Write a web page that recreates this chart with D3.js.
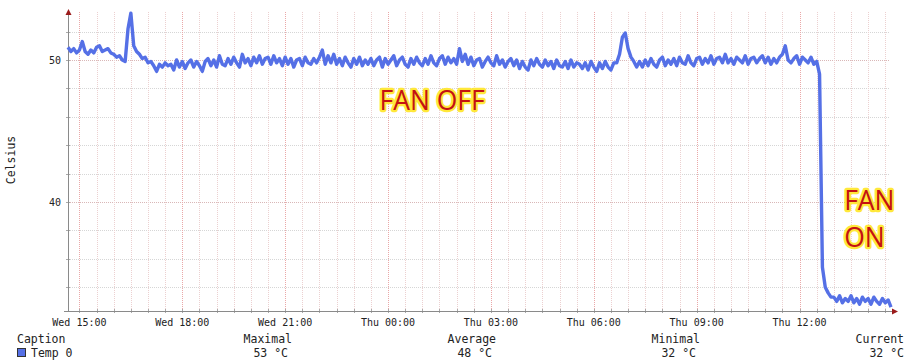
<!DOCTYPE html>
<html>
<head>
<meta charset="utf-8">
<script src="https://cdn.jsdelivr.net/npm/d3@7.9.0/dist/d3.min.js"></script>
<style>
  body { margin: 0; background: #fff; }
  svg { display: block; }
  .mono { font-family: "DejaVu Sans Mono", monospace; fill: #222; }
  .note { font-family: "Open Sans", sans-serif; font-size: 26.5px; fill: #c41212;
          stroke: #ffe83a; stroke-width: 4.5px; stroke-linejoin: round; paint-order: stroke; }
</style>
</head>
<body>
<svg id="chart" width="908" height="364"></svg>
<script>
// one sample every 5 minutes, Wed 14:40 -> Thu 14:40
const startTime = Date.UTC(2024, 0, 3, 14, 40);
const stepMinutes = 5;

const temps = [
  // 14:40 .. 16:20
  50.9, 50.6, 50.8, 50.5, 50.7, 51.3, 50.6, 50.4, 50.7, 50.5, 50.9, 51.0, 50.6, 50.7, 50.8, 50.5, 50.4, 50.2, 50.3, 50.0, 49.9,
  // first spike
  52.2, 53.3, 51.0, 50.6, 50.4, 50.1, 50.2, 49.8, 49.9, 49.6, 49.2, 49.7, 49.5, 49.8, 49.6,
  49.7, 49.3, 50.0, 49.5, 49.9, 49.4, 49.8, 50.0, 49.5, 49.9, 49.6, 49.2, 49.9, 50.1, 49.6, 50.0, 49.5, 50.3, 49.7, 49.6,
  50.1, 49.7, 50.2, 49.8, 49.5, 50.4, 49.8, 50.1, 49.6, 50.2, 49.8, 50.3, 49.7, 50.1, 50.2, 49.7, 50.3, 49.8, 50.1, 49.6,
  50.2, 49.7, 50.1, 49.5, 50.0, 50.1, 49.6, 50.2, 49.8, 49.7, 50.1, 49.8, 50.2, 50.7, 49.7, 50.3, 49.8, 50.4, 49.7, 50.1,
  49.6, 50.2, 49.8, 49.5, 50.1, 49.7, 50.2, 49.6, 50.0, 49.7, 50.1, 49.6, 50.0, 50.2, 49.5, 50.1, 49.7, 50.0, 50.3, 49.6,
  50.0, 50.2, 49.7, 49.5, 50.1, 49.7, 50.2, 49.8, 49.6, 50.1, 49.7, 50.3, 49.8, 49.6, 50.1, 50.3, 49.7, 50.2, 49.8, 50.1,
  49.7, 50.8, 49.9, 50.4, 49.7,
  50.2, 49.6, 50.0, 50.1, 49.5, 49.9, 50.2, 49.8, 49.6, 50.3, 49.7, 50.0, 49.5, 49.9, 50.1, 49.6, 50.0, 49.4, 49.9, 49.5,
  49.3, 50.0, 49.6, 50.1, 49.7, 49.5, 50.0, 49.6, 49.9, 49.4, 50.0, 49.6, 49.5, 49.9, 49.4, 50.0, 49.5, 49.8, 49.7, 49.4,
  49.8, 49.3, 49.9, 49.5, 49.2, 49.8, 49.4, 49.9, 49.5, 49.3, 49.8,
  // second bump, around Thu 06:45
  49.8, 50.4, 51.6, 51.9, 50.8, 50.2, 49.9, 49.5,
  49.9, 49.5, 50.0, 49.6, 50.1, 49.7, 49.5, 50.0, 50.2, 49.6, 50.0, 49.7, 50.1, 49.6, 50.2, 49.8, 49.7, 50.3, 49.8, 49.6, 50.1,
  50.2, 49.7, 50.1, 49.8, 50.3, 49.7, 50.1, 50.2, 49.8, 50.4, 49.8, 50.1, 49.7, 50.2, 50.0, 49.8, 50.3, 49.7, 50.1, 50.2,
  49.8, 50.1, 50.3, 49.8, 50.2, 49.7, 50.1, 49.8, 50.2, 50.4, 51.0, 50.0, 49.8, 50.1, 50.3, 49.7, 50.2, 50.0, 49.8, 50.2, 49.7, 49.9,
  // fan switched on
  49.0, 35.4, 34.0, 33.6, 33.3,
  33.3, 33.0, 33.4, 32.9, 33.2, 33.0, 33.4, 32.9, 33.2, 32.8, 33.3, 33.0, 33.2, 32.8, 33.3, 33.0, 32.8, 33.2, 32.9, 33.1, 32.6
];

const yTickValues = [40, 50];
const yGridValues = [34, 36, 38, 40, 42, 44, 46, 48, 50, 52];
const yLabel = "Celsius";

const legendHeaders = ["Maximal", "Average", "Minimal", "Current"];
const legendValues = ["53 °C", "48 °C", "32 °C", "32 °C"];
const seriesName = "Temp 0";

const notes = [
  { text: "FAN OFF", time: Date.UTC(2024, 0, 3, 23, 45), value: 46.45 },
  { text: "FAN", time: Date.UTC(2024, 0, 4, 13, 18), value: 39.45 },
  { text: "ON", time: Date.UTC(2024, 0, 4, 13, 18), value: 36.8 }
];

const data = temps.map((v, i) => ({ t: new Date(startTime + i * stepMinutes * 60000), v: v }));

const plotLeft = 68, plotRight = 891, plotTop = 8, plotBottom = 311;
const lineColor = "#5570e6";

const svg = d3.select("#chart");

const x = d3.scaleUtc()
  .domain([new Date(startTime), new Date(startTime + 24 * 3600000)])
  .range([plotLeft, plotRight]);

const y = d3.scaleLinear()
  .domain([40, 50])
  .range([202, 60]);

// grid
const minorTimes = x.ticks(d3.utcMinute.every(30));
const majorTimes = x.ticks(d3.utcHour.every(3));

svg.append("g").selectAll("line")
  .data(yGridValues)
  .join("line")
  .attr("x1", plotLeft).attr("x2", plotRight - 2)
  .attr("y1", d => Math.round(y(d)) + 0.5).attr("y2", d => Math.round(y(d)) + 0.5)
  .attr("stroke", d => d % 10 === 0 ? "#d9b7b7" : "#d6d6d6")
  .attr("stroke-dasharray", "1,1");

svg.append("g").selectAll("line")
  .data(minorTimes)
  .join("line")
  .attr("x1", d => Math.round(x(d)) + 0.5).attr("x2", d => Math.round(x(d)) + 0.5)
  .attr("y1", 12).attr("y2", plotBottom)
  .attr("stroke", "#ecd0d0")
  .attr("stroke-dasharray", "1,1");

svg.append("g").selectAll("line")
  .data(majorTimes)
  .join("line")
  .attr("x1", d => Math.round(x(d)) + 0.5).attr("x2", d => Math.round(x(d)) + 0.5)
  .attr("y1", 12).attr("y2", plotBottom)
  .attr("stroke", "#eaa8a8")
  .attr("stroke-dasharray", "1,1");

// small tick marks
svg.append("g").selectAll("line")
  .data(minorTimes)
  .join("line")
  .attr("x1", d => Math.round(x(d)) + 0.5).attr("x2", d => Math.round(x(d)) + 0.5)
  .attr("y1", plotBottom - 2).attr("y2", plotBottom + 2)
  .attr("stroke", "#aaa");

svg.append("g").selectAll("line")
  .data(yGridValues)
  .join("line")
  .attr("x1", plotLeft - 2).attr("x2", plotLeft + 2)
  .attr("y1", d => Math.round(y(d)) + 0.5).attr("y2", d => Math.round(y(d)) + 0.5)
  .attr("stroke", "#aaa");

// axes
svg.append("line")
  .attr("x1", plotLeft + 0.5).attr("x2", plotLeft + 0.5)
  .attr("y1", plotTop + 4).attr("y2", plotBottom + 1)
  .attr("stroke", "#8a8a8a");
svg.append("line")
  .attr("x1", plotLeft - 4).attr("x2", plotRight + 2)
  .attr("y1", plotBottom + 0.5).attr("y2", plotBottom + 0.5)
  .attr("stroke", "#8a8a8a");
svg.append("path")
  .attr("d", `M${plotLeft + 0.5},${plotTop + 1} l-3,6 h6 z`)
  .attr("fill", "#9b1b1b");
svg.append("path")
  .attr("d", `M${plotRight + 7},${plotBottom + 0.5} l-6,-3 v6 z`)
  .attr("fill", "#9b1b1b");

// the series
const line = d3.line()
  .x(d => x(d.t))
  .y(d => y(d.v));

svg.append("path")
  .datum(data)
  .attr("d", line)
  .attr("fill", "none")
  .attr("stroke", lineColor)
  .attr("stroke-width", 3.4)
  .attr("stroke-linejoin", "round");

// tick labels
const fmt = d3.utcFormat("%a %H:%M");
svg.append("g").selectAll("text")
  .data(majorTimes)
  .join("text")
  .attr("class", "mono")
  .attr("x", d => x(d))
  .attr("y", 326)
  .attr("text-anchor", "middle")
  .attr("font-size", 10)
  .text(d => fmt(d));

svg.append("g").selectAll("text")
  .data(yTickValues)
  .join("text")
  .attr("class", "mono")
  .attr("x", 61)
  .attr("y", d => y(d) + 3.5)
  .attr("text-anchor", "end")
  .attr("font-size", 10)
  .text(d => d);

svg.append("text")
  .attr("class", "mono")
  .attr("transform", "translate(15,160) rotate(-90)")
  .attr("text-anchor", "middle")
  .attr("font-size", 11.5)
  .text(yLabel);

// notes
svg.append("g").selectAll("text")
  .data(notes)
  .join("text")
  .attr("class", "note")
  .attr("x", d => x(d.time))
  .attr("y", d => y(d.value))
  .text(d => d.text);

// legend
const legend = svg.append("g").attr("font-size", 11.5);
legend.append("text").attr("class", "mono").attr("x", 17).attr("y", 343).text("Caption");
legend.append("rect")
  .attr("x", 17.5).attr("y", 348.5).attr("width", 8).attr("height", 8)
  .attr("fill", lineColor).attr("stroke", "#333");
legend.append("text").attr("class", "mono").attr("x", 31).attr("y", 357).text(seriesName);

const colEnds = [292, 496, 700, 904];
legend.selectAll("text.head")
  .data(legendHeaders)
  .join("text")
  .attr("class", "mono head")
  .attr("x", (d, i) => colEnds[i])
  .attr("y", 343)
  .attr("text-anchor", "end")
  .text(d => d);
legend.selectAll("text.val")
  .data(legendValues)
  .join("text")
  .attr("class", "mono val")
  .attr("x", (d, i) => colEnds[i] - (i === 3 ? 0 : 4))
  .attr("y", 357)
  .attr("text-anchor", "end")
  .text(d => d);
</script>
</body>
</html>
